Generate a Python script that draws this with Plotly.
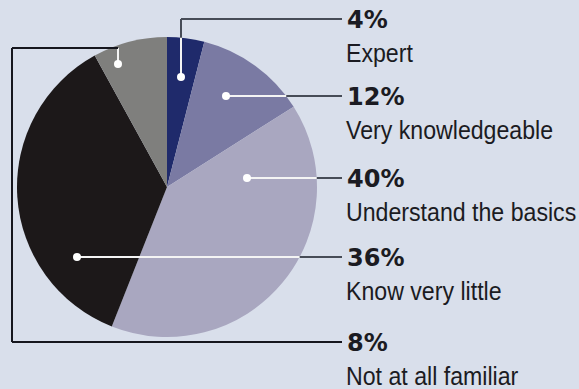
import plotly.graph_objects as go
import math

# ---- data ----
categories = ["Expert", "Very knowledgeable", "Understand the basics",
              "Know very little", "Not at all familiar"]
values = [4, 12, 40, 36, 8]
colors = ["#1f2a6b", "#7a7aa3", "#a9a7c0", "#1c1819", "#7f7f7d"]

W, H = 579, 389
BG = "#d9dfeb"
CX, CY, R = 167, 187, 150          # pie centre / radius in pixels

# label row y (pixels) and dot positions (pixels)
row_y = [19, 96, 178, 257, 342]
dots = [(181, 77), (226, 96), (247, 178), (77, 257), (118, 64)]
TEXT_X = 345
LINE_END = 342

fig = go.Figure()
fig.add_trace(go.Pie(
    labels=categories, values=values, sort=False, direction="clockwise",
    rotation=0, marker=dict(colors=colors, line=dict(width=0)),
    textinfo="none", hoverinfo="label+percent", showlegend=False,
    domain=dict(x=[(CX - R) / W, (CX + R) / W],
                y=[(H - CY - R) / H, (H - CY + R) / H]),
))

DARK = "#474c57"
BLACK = "#16161e"
WHITE = "#f4f4f4"
shapes = []

def line(x0, y0, x1, y1, color, w=2):
    shapes.append(dict(type="line", xref="x", yref="y", x0=x0, y0=y0,
                       x1=x1, y1=y1, line=dict(color=color, width=w),
                       layer="above"))

def edge_x(y):
    return CX + math.sqrt(R * R - (y - CY) ** 2)

def edge_y_top(x):
    return CY - math.sqrt(R * R - (x - CX) ** 2)

# Expert: vertical then horizontal
dx, dy = dots[0]
line(dx, dy, dx, row_y[0], DARK)
line(dx, row_y[0], LINE_END, row_y[0], DARK)
line(dx, dy, dx, edge_y_top(dx), WHITE)

# horizontal leaders for rows 1..3
for i in (1, 2, 3):
    dx, dy = dots[i]
    line(dx, dy, LINE_END, row_y[i], DARK)
    line(dx, dy, edge_x(dy), dy, WHITE)

# Not at all familiar: bracket round the left
dx, dy = dots[4]
top = 48
left = 12
line(dx, dy, dx, top, WHITE)
line(dx, top, left, top, BLACK)
line(left, top, left, row_y[4], BLACK)
line(left, row_y[4], LINE_END, row_y[4], BLACK)

for (dx, dy) in dots:
    shapes.append(dict(type="circle", xref="x", yref="y",
                       x0=dx - 4, x1=dx + 4, y0=dy - 4, y1=dy + 4,
                       fillcolor="white", line=dict(width=0), layer="above"))

annotations = []
for i, cat in enumerate(categories):
    annotations.append(dict(x=TEXT_X, y=row_y[i] + 1, xref="x", yref="y",
                            text=f"{values[i]}%", showarrow=False,
                            xanchor="left", yanchor="middle",
                            font=dict(family="DejaVu Sans", size=24,
                                      color="#1b1b22", weight="bold")))
    annotations.append(dict(x=TEXT_X - 1, y=row_y[i] + 34, xref="x", yref="y",
                            text=cat, showarrow=False,
                            xanchor="left", yanchor="middle",
                            font=dict(family="Liberation Sans, Arial, sans-serif",
                                      size=26, color="#1b1b22")))

fig.update_layout(
    width=W, height=H, margin=dict(l=0, r=0, t=0, b=0),
    paper_bgcolor=BG, plot_bgcolor=BG,
    xaxis=dict(range=[0, W], visible=False, fixedrange=True),
    yaxis=dict(range=[H, 0], visible=False, fixedrange=True),
    shapes=shapes, annotations=annotations,
)

# condense the category names horizontally (the original uses a condensed face)
post = """
var anns = document.querySelectorAll('.annotation');
anns.forEach(function(a, i){
  if (i % 2 === 1) {
    var t = a.querySelector('text');
    if (t) {
      t.style.transformBox = 'fill-box';
      t.style.transformOrigin = 'left center';
      t.style.transform = 'scaleX(0.89)';
    }
  }
});
"""
fig.write_html("out.html", post_script=post)
